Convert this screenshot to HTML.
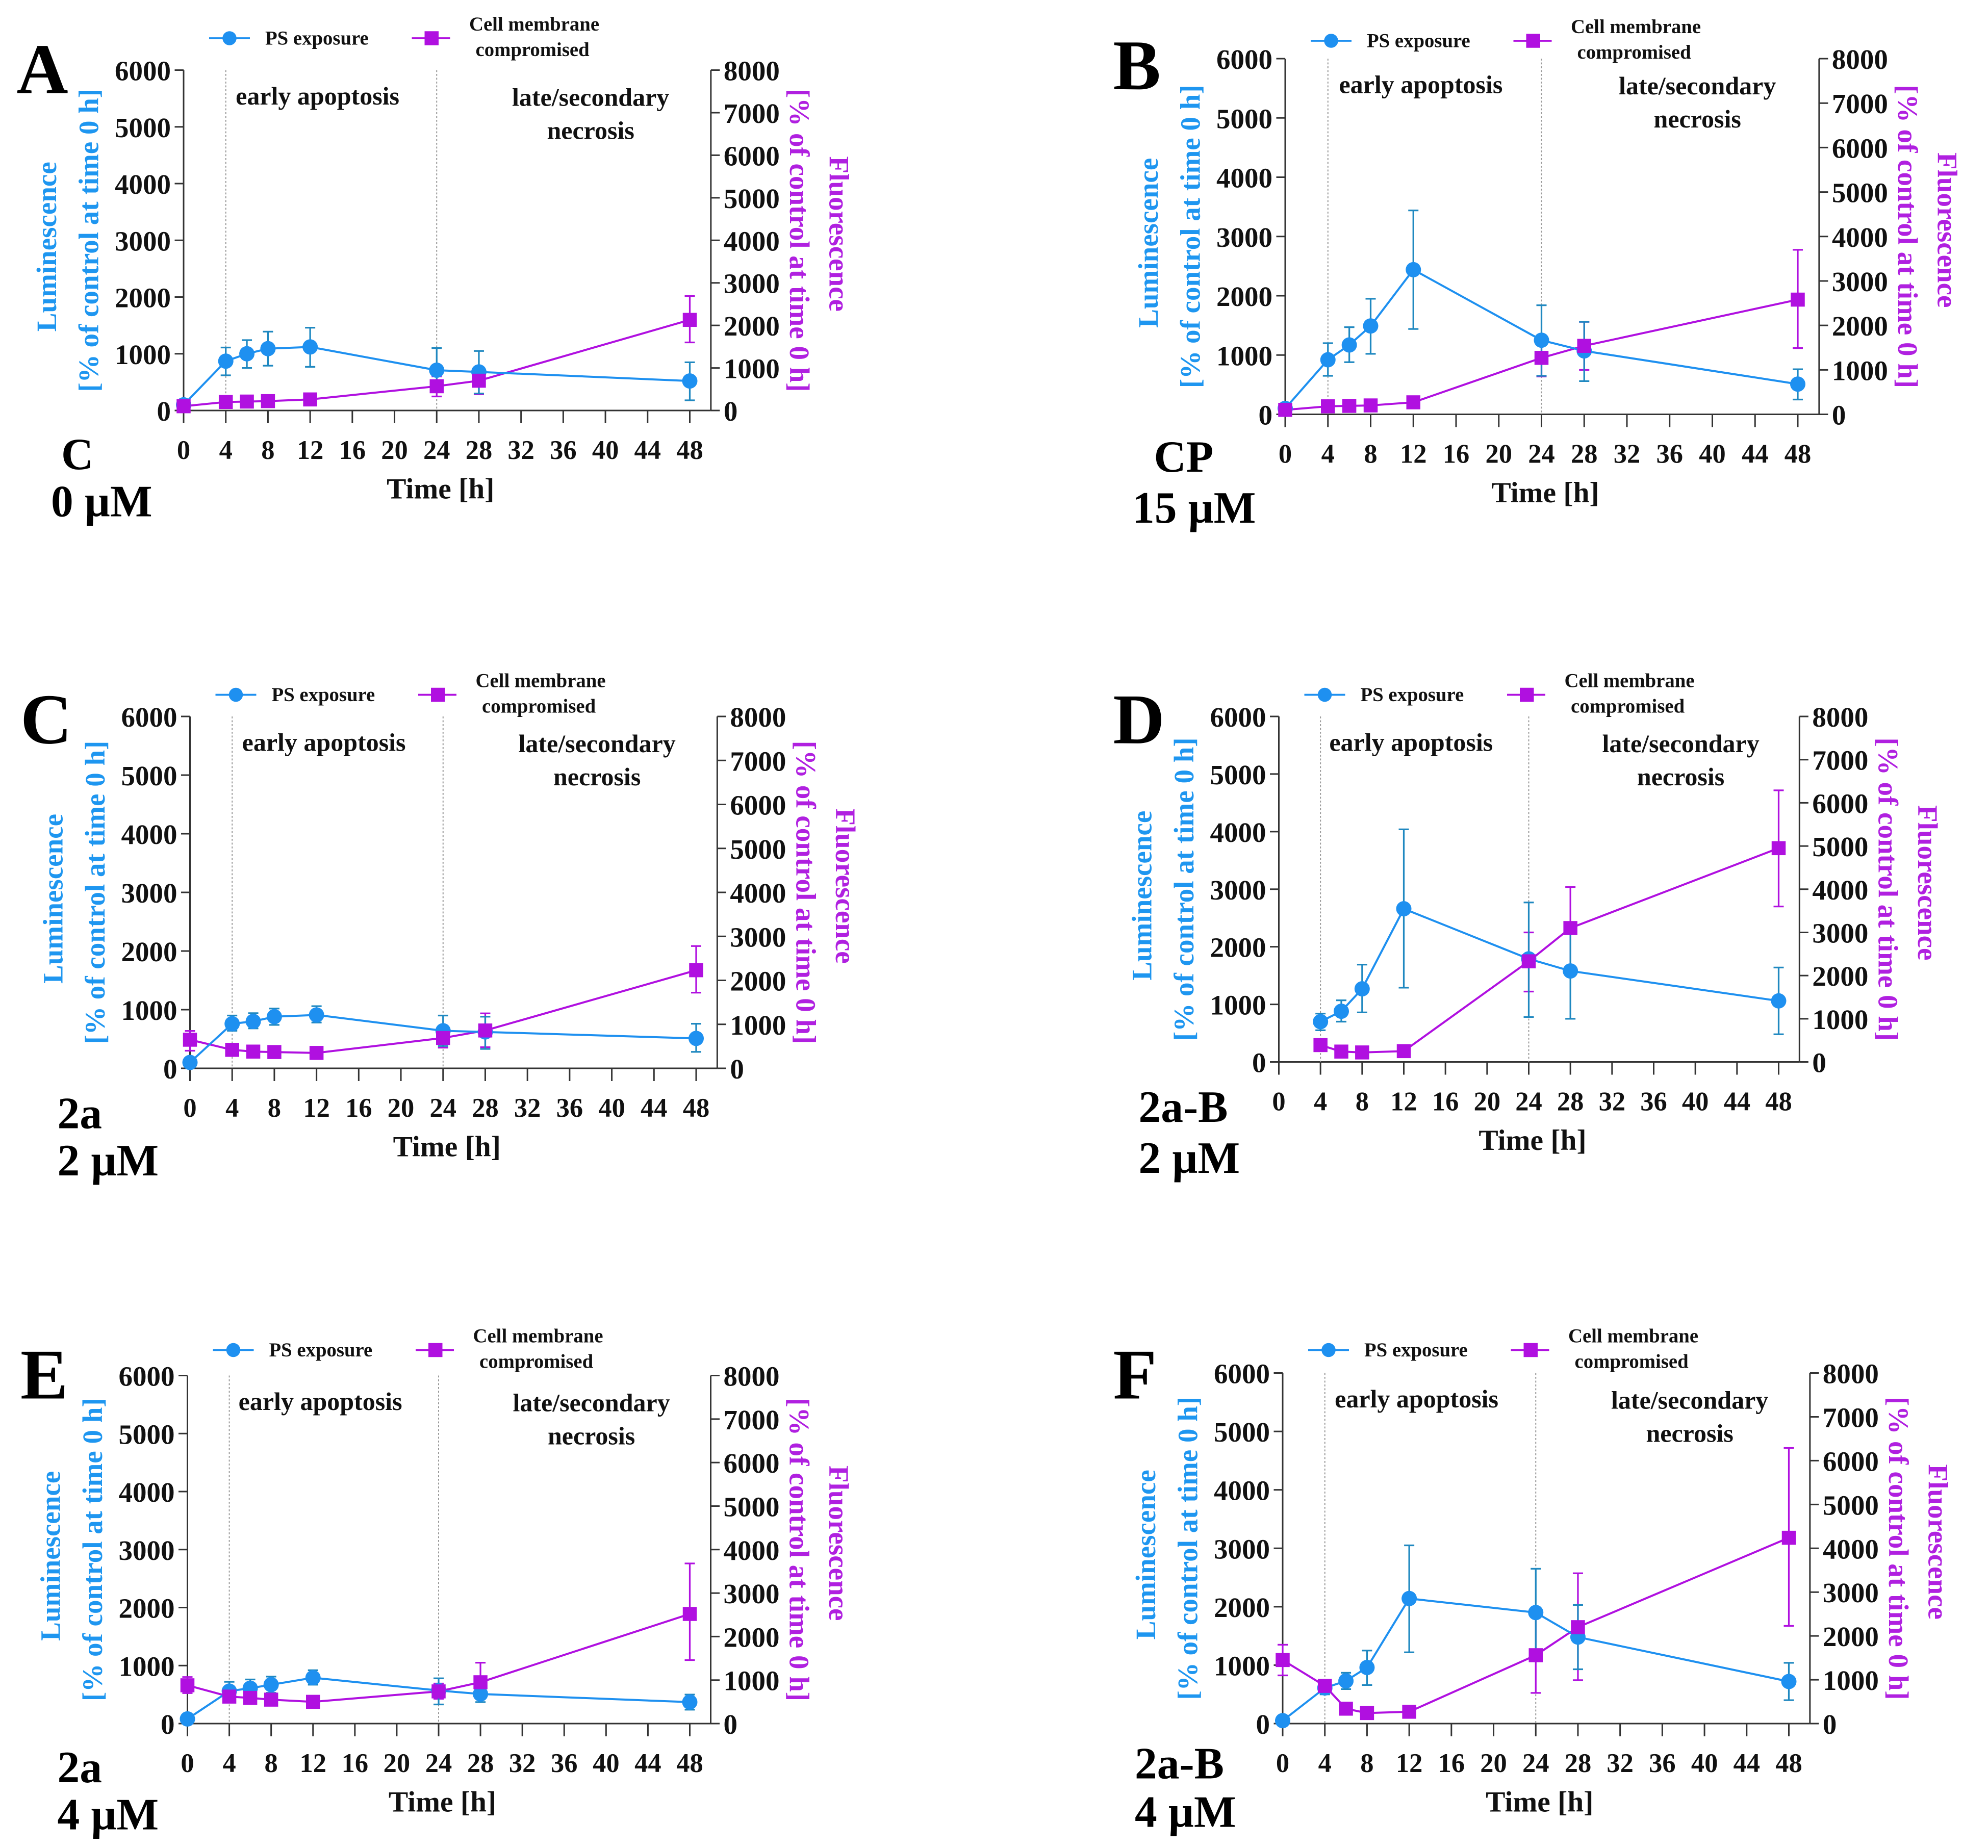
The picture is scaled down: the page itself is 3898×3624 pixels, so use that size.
<!DOCTYPE html>
<html><head><meta charset="utf-8"><style>
html,body{margin:0;padding:0;background:#fff}
svg{display:block}
text{font-family:"Liberation Serif",serif}
</style></head><body>
<svg id="fig" xmlns="http://www.w3.org/2000/svg" width="3898" height="3624" viewBox="0 0 1559.2 1449.6"></svg>
<script>
// ---- data (hours, % of control) ----
const timesA=[0,4,6,8,12,24,28,48];
const psA=[100,870,1000,1090,1120,710,680,520];
const psLoA=[100,620,750,790,770,330,300,180];
const psHiA=[100,1110,1240,1390,1460,1100,1050,850];
const flA=[100,200,210,220,260,570,700,2130];
const flLoA=[100,200,210,220,260,330,380,1600];
const flHiA=[100,200,210,220,260,800,1000,2690];

const timesB=[0,4,6,8,12,24,28,48];
const psB=[100,920,1170,1490,2440,1250,1070,510];
const psLoB=[100,650,880,1020,1440,650,560,250];
const psHiB=[100,1200,1470,1950,3440,1840,1560,760];
const flB=[100,180,190,200,270,1270,1540,2580];
const flLoB=[100,180,190,200,270,850,1000,1490];
const flHiB=[100,180,190,200,270,1700,2080,3700];

const timesC=[0,4,6,8,12,24,28,48];
const psC=[100,760,800,880,910,640,620,510];
const psLoC=[100,640,680,740,780,380,330,280];
const psHiC=[100,900,940,1020,1060,900,880,760];
const flC=[650,420,380,370,350,690,860,2230];
const flLoC=[400,420,380,370,350,470,480,1720];
const flHiC=[850,420,380,370,350,920,1250,2780];

const timesD=[4,6,8,12,24,28,48];
const psD=[700,880,1270,2660,1790,1580,1060];
const psLoD=[550,700,860,1290,780,750,480];
const psHiD=[840,1070,1690,4040,2770,2400,1640];
const flD=[390,240,220,250,2330,3100,4950];
const flLoD=[390,240,220,250,1630,2200,3600];
const flHiD=[390,240,220,250,3000,4050,6290];

const timesE=[0,4,6,8,12,24,28,48];
const psE=[80,560,610,670,790,570,510,370];
const psLoE=[80,400,460,530,670,330,370,240];
const psHiE=[80,720,760,810,920,780,650,500];
const flE=[880,620,590,550,500,740,950,2520];
const flLoE=[700,620,590,550,500,570,600,1460];
const flHiE=[1070,620,590,550,500,920,1400,3680];

const timesF=[0,4,6,8,12,24,28,48];
const psF=[50,610,730,960,2140,1900,1480,720];
const psLoF=[50,500,590,660,1220,1150,930,400];
const psHiF=[50,720,870,1250,3050,2650,2030,1040];
const flF=[1450,860,340,240,270,1560,2200,4240];
const flLoF=[1100,710,340,240,270,700,990,2230];
const flHiF=[1800,1000,340,240,270,2450,3430,6290];

const xTicks=[0,4,8,12,16,20,24,28,32,36,40,44,48];
const leftTicks=[0,1000,2000,3000,4000,5000,6000];
const rightTicks=[0,1000,2000,3000,4000,5000,6000,7000,8000];

const panels=[
 {id:'a',letter:'A',x0:144,x48:541,yTop:55,yBot:322,legY:30,lx:13,ly:73,c1:'C',c1x:48,c1y:368,c2:'0 µM',c2x:40,c2y:405,t:timesA,ps:psA,psLo:psLoA,psHi:psHiA,fl:flA,flLo:flLoA,flHi:flHiA},
 {id:'b',letter:'B',x0:1008,x48:1410,yTop:46,yBot:325,legY:32,lx:873,ly:70,c1:'CP',c1x:905,c1y:370,c2:'15 µM',c2x:888,c2y:410,t:timesB,ps:psB,psLo:psLoB,psHi:psHiB,fl:flB,flLo:flLoB,flHi:flHiB},
 {id:'c',letter:'C',x0:149,x48:546,yTop:562,yBot:838,legY:545,lx:16,ly:583,c1:'2a',c1x:45,c1y:885,c2:'2 µM',c2x:45,c2y:922,t:timesC,ps:psC,psLo:psLoC,psHi:psHiC,fl:flC,flLo:flLoC,flHi:flHiC},
 {id:'d',letter:'D',x0:1003,x48:1395,yTop:562,yBot:833,legY:545,lx:873,ly:583,c1:'2a-B',c1x:893,c1y:880,c2:'2 µM',c2x:893,c2y:920,t:timesD,ps:psD,psLo:psLoD,psHi:psHiD,fl:flD,flLo:flLoD,flHi:flHiD},
 {id:'e',letter:'E',x0:147,x48:541,yTop:1079,yBot:1352,legY:1059,lx:16,ly:1097,c1:'2a',c1x:45,c1y:1398,c2:'4 µM',c2x:45,c2y:1435,t:timesE,ps:psE,psLo:psLoE,psHi:psHiE,fl:flE,flLo:flLoE,flHi:flHiE},
 {id:'f',letter:'F',x0:1006,x48:1403,yTop:1077,yBot:1352,legY:1059,lx:873,ly:1097,c1:'2a-B',c1x:890,c1y:1395,c2:'4 µM',c2x:890,c2y:1433,t:timesF,ps:psF,psLo:psLoF,psHi:psHiF,fl:flF,flLo:flLoF,flHi:flHiF}
];

const NS='http://www.w3.org/2000/svg';
const svg=document.getElementById('fig');
const BLUE='#1e90f0', BLUE_ERR='#1f88c0', PURP='#b010e0', BLUE_T='#1e96f0', PURP_T='#b020e0';
function mk(tag,attrs,parent){const e=document.createElementNS(NS,tag);for(const k in attrs)e.setAttribute(k,attrs[k]);(parent||svg).appendChild(e);return e;}
function txt(s,attrs,parent){const e=mk('text',attrs,parent);e.textContent=s;return e;}

panels.forEach(p=>{
  const g=mk('g',{});
  
  
  const X=t=>p.x0+(p.x48-p.x0)*t/48;
  const YL=v=>p.yBot-(p.yBot-p.yTop)*v/6000;
  const YR=v=>p.yBot-(p.yBot-p.yTop)*v/8000;
  const xR=X(50);
  const L=txt(p.letter,{x:p.lx,y:p.ly,'font-size':56,'font-weight':'bold',fill:'#000'},g);
  
  
  const c1=txt(p.c1,{x:p.c1x,y:p.c1y,'font-size':35,'font-weight':'bold',fill:'#000'},g);
  
  
  const c2=txt(p.c2,{x:p.c2x,y:p.c2y,'font-size':35,'font-weight':'bold',fill:'#000'},g);
  
  
  const ax=mk('g',{stroke:'#333','stroke-width':1.2,fill:'none'},g);
  
  
  mk('line',{x1:p.x0,y1:p.yTop,x2:p.x0,y2:p.yBot},ax);
  mk('line',{x1:xR,y1:p.yTop,x2:xR,y2:p.yBot},ax);
  mk('line',{x1:p.x0,y1:p.yBot,x2:xR,y2:p.yBot},ax);
  xTicks.forEach(t=>{
    mk('line',{x1:X(t),y1:p.yBot,x2:X(t),y2:p.yBot+10},ax);
    const tl=txt(String(t),{x:X(t),y:p.yBot+38,'font-size':21,'font-weight':'bold','text-anchor':'middle',fill:'#111',stroke:'none'},g);
    
    
  });
  leftTicks.forEach(v=>{
    mk('line',{x1:p.x0-7,y1:YL(v),x2:p.x0,y2:YL(v)},ax);
    const tl=txt(String(v),{x:p.x0-10,y:YL(v)+8,'font-size':22,'font-weight':'bold','text-anchor':'end',fill:'#111',stroke:'none'},g);
    
    
  });
  rightTicks.forEach(v=>{
    mk('line',{x1:xR,y1:YR(v),x2:xR+7,y2:YR(v)},ax);
    const tl=txt(String(v),{x:xR+10,y:YR(v)+8,'font-size':22,'font-weight':'bold','text-anchor':'start',fill:'#111',stroke:'none'},g);
    
    
  });
  [4,24].forEach(t=>{
    const d=mk('line',{x1:X(t),y1:p.yTop,x2:X(t),y2:p.yBot,stroke:'#999','stroke-width':0.8,'stroke-dasharray':'1.5,1.5'},g);
    
    
  });
  const e1=txt('early apoptosis',{x:X(12.7),y:p.yTop+27,'font-size':20,'font-weight':'bold','text-anchor':'middle',fill:'#111'},g);
  
  
  const e2=txt('late/secondary',{x:X(38.6),y:p.yTop+28,'font-size':20,'font-weight':'bold','text-anchor':'middle',fill:'#111'},g);
  
  
  const e3=txt('necrosis',{x:X(38.6),y:p.yTop+54,'font-size':20,'font-weight':'bold','text-anchor':'middle',fill:'#111'},g);
  
  
  const ym=(p.yTop+p.yBot)/2;
  const t1=txt('Luminescence',{x:0,y:0,transform:`translate(${p.x0-100},${ym+5}) rotate(-90)`,'font-size':22,'font-weight':'bold','text-anchor':'middle',fill:BLUE_T},g);
  
  
  const t2=txt('[% of control at time 0 h]',{x:0,y:0,transform:`translate(${p.x0-67},${ym}) rotate(-90)`,'font-size':22,'font-weight':'bold','text-anchor':'middle',fill:BLUE_T},g);
  
  
  const t3=txt('[% of control at time 0 h]',{x:0,y:0,transform:`translate(${xR+62},${ym}) rotate(90)`,'font-size':22,'font-weight':'bold','text-anchor':'middle',fill:PURP_T},g);
  
  
  const t4=txt('Fluorescence',{x:0,y:0,transform:`translate(${xR+93},${ym-5}) rotate(90)`,'font-size':22,'font-weight':'bold','text-anchor':'middle',fill:PURP_T},g);
  
  
  const tx=txt('Time [h]',{x:(p.x0+p.x48)/2+3,y:p.yBot+69,'font-size':23,'font-weight':'bold','text-anchor':'middle',fill:'#111'},g);
  
  
  const lg=mk('g',{},g);
  
  
  const ly=p.legY;
  mk('line',{x1:p.x0+20,y1:ly,x2:p.x0+52,y2:ly,stroke:BLUE,'stroke-width':1.5},lg);
  mk('circle',{cx:p.x0+36,cy:ly,r:5.5,fill:BLUE},lg);
  txt('PS exposure',{x:p.x0+64,y:ly+5,'font-size':15.5,'font-weight':'bold',fill:'#111'},lg);
  mk('line',{x1:p.x0+179,y1:ly,x2:p.x0+209,y2:ly,stroke:PURP,'stroke-width':1.5},lg);
  mk('rect',{x:p.x0+189,y:ly-5.5,width:11,height:11,fill:PURP},lg);
  txt('Cell membrane',{x:p.x0+224,y:ly-6,'font-size':15.5,'font-weight':'bold',fill:'#111'},lg);
  txt('compromised',{x:p.x0+229,y:ly+14,'font-size':15.5,'font-weight':'bold',fill:'#111'},lg);
  const psPts=p.t.map((t,i)=>X(t)+','+YL(p.ps[i])).join(' ');
  const flPts=p.t.map((t,i)=>X(t)+','+YR(p.fl[i])).join(' ');
  const fLine=mk('polyline',{points:flPts,fill:'none',stroke:PURP,'stroke-width':1.6},g);
  
  
  const pLine=mk('polyline',{points:psPts,fill:'none',stroke:BLUE,'stroke-width':1.6},g);
  
  
  p.t.forEach((t,i)=>{
    const x=X(t);
    if(p.flHi[i]!==p.flLo[i]){
      const eb=mk('path',{d:`M${x},${YR(p.flLo[i])}V${YR(p.flHi[i])}M${x-4},${YR(p.flLo[i])}h8M${x-4},${YR(p.flHi[i])}h8`,stroke:PURP,'stroke-width':1.3,fill:'none'},g);
      
      
    }
    if(p.psHi[i]!==p.psLo[i]){
      const eb=mk('path',{d:`M${x},${YL(p.psLo[i])}V${YL(p.psHi[i])}M${x-4},${YL(p.psLo[i])}h8M${x-4},${YL(p.psHi[i])}h8`,stroke:BLUE_ERR,'stroke-width':1.3,fill:'none'},g);
      
      
    }
  });
  p.t.forEach((t,i)=>{
    const x=X(t);
    const c=mk('circle',{cx:x,cy:YL(p.ps[i]),r:6,fill:BLUE},g);
    
    
    const s=mk('rect',{x:x-5.5,y:YR(p.fl[i])-5.5,width:11,height:11,fill:PURP},g);
    
    
  });
});
</script>
</body></html>
